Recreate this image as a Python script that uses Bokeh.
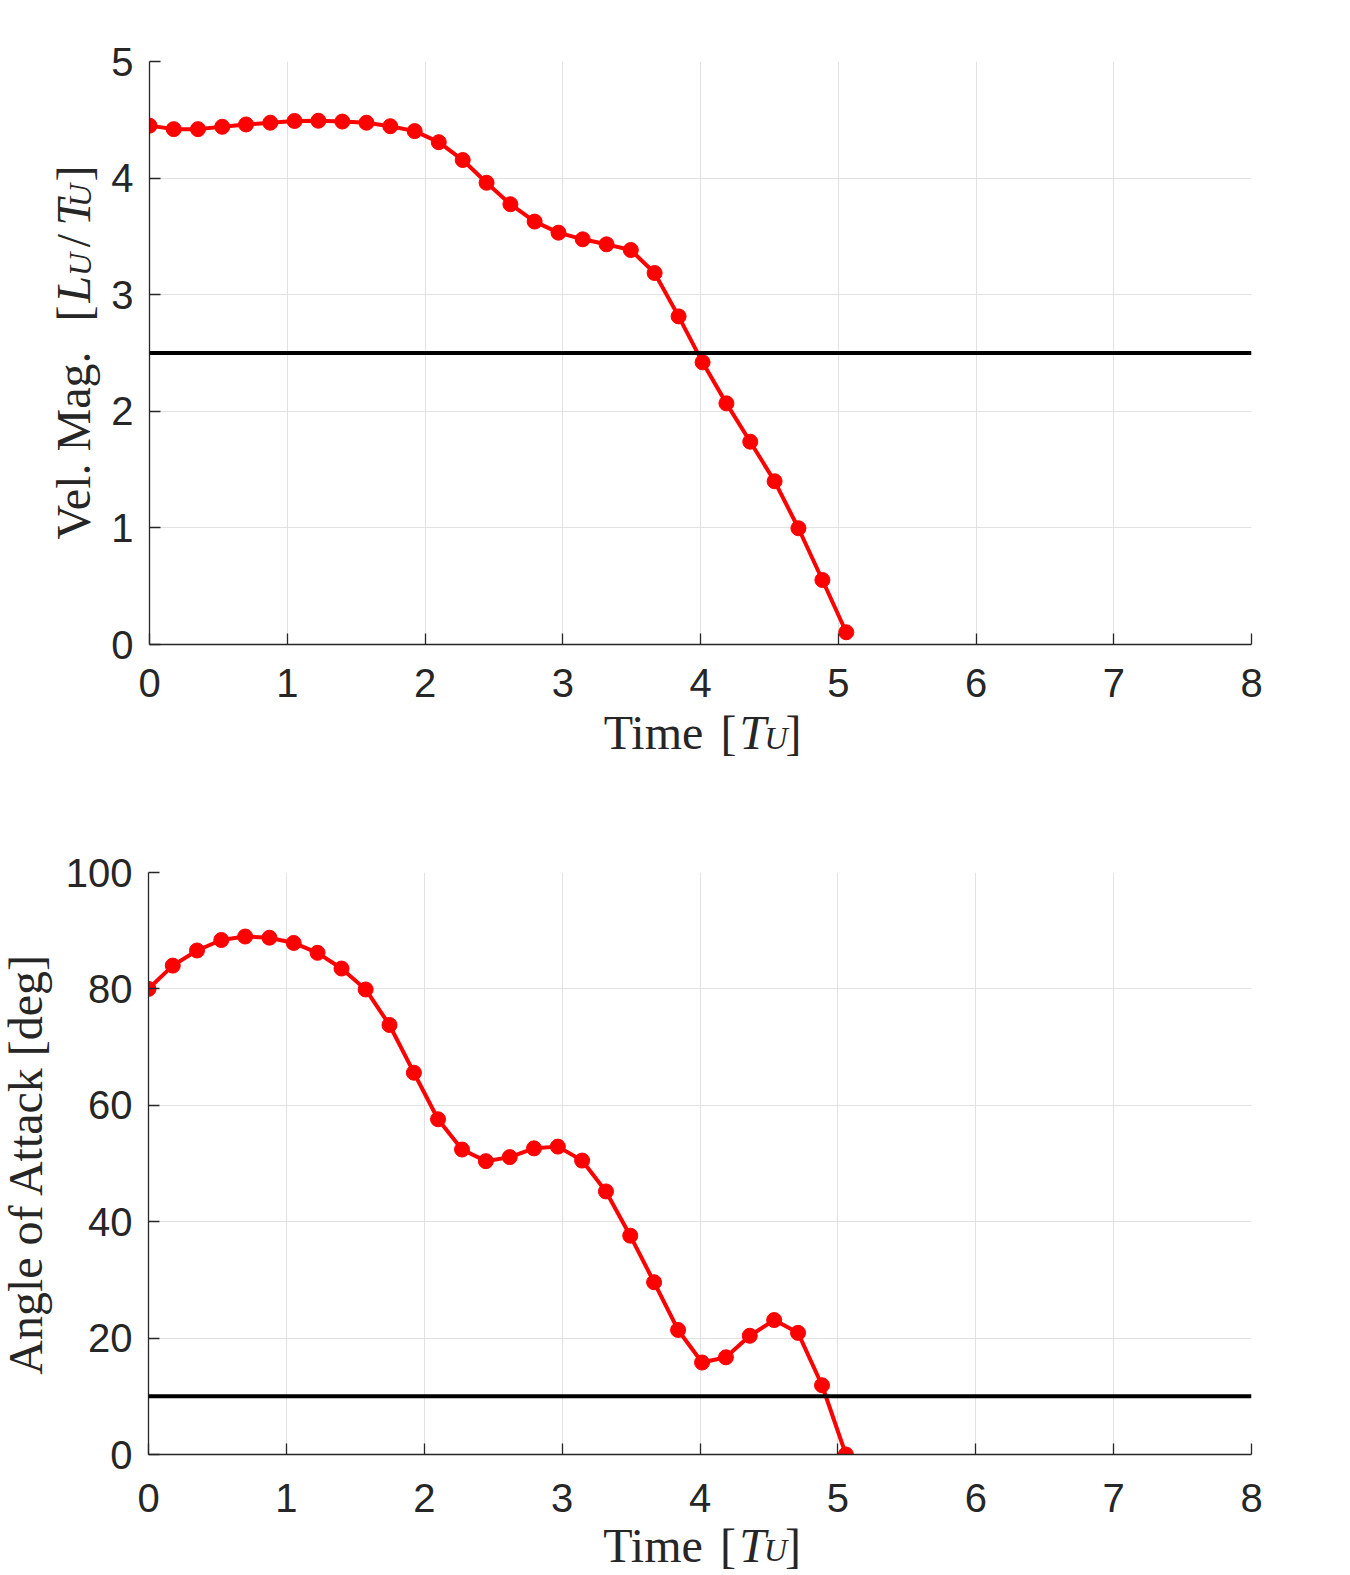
import math

from bokeh.core.properties import value
from bokeh.embed import file_html
from bokeh.layouts import column, row
from bokeh.models import ColumnDataSource, FixedTicker, Range1d, Span
from bokeh.plotting import figure
from bokeh.resources import INLINE

# Sample times [T_U]
time_tu = [0.000, 0.176, 0.352, 0.528, 0.701, 0.877, 1.053, 1.226, 1.400, 1.575,
           1.748, 1.925, 2.100, 2.274, 2.447, 2.620, 2.796, 2.969, 3.145, 3.318,
           3.494, 3.667, 3.841, 4.015, 4.188, 4.361, 4.538, 4.711, 4.885, 5.058]

# Velocity magnitude [L_U/T_U]
vel_mag = [4.450, 4.420, 4.420, 4.440, 4.460, 4.475, 4.490, 4.492, 4.485, 4.475,
           4.445, 4.403, 4.308, 4.155, 3.960, 3.776, 3.627, 3.532, 3.475, 3.432,
           3.383, 3.186, 2.814, 2.420, 2.068, 1.739, 1.400, 0.997, 0.553, 0.105]

# Angle of attack [deg]
aoa_deg = [80.0, 84.0, 86.6, 88.4, 89.0, 88.8, 87.9, 86.2, 83.5, 79.9,
           73.8, 65.6, 57.6, 52.4, 50.4, 51.1, 52.6, 52.9, 50.5, 45.2,
           37.6, 29.6, 21.4, 15.8, 16.7, 20.4, 23.1, 20.9, 11.9, 0.0]

# Limits drawn as horizontal reference lines
vel_limit = 2.5
aoa_limit = 10.0

x_ticks = [0, 1, 2, 3, 4, 5, 6, 7, 8]
vel_ticks = [0, 1, 2, 3, 4, 5]
aoa_ticks = [0, 20, 40, 60, 80, 100]

# Axis titles, split into roman / italic / subscript runs
time_title = ["Time", "[", "T", "U", "]"]
vel_title = ["Vel. Mag.", "[", "L", "U", "/", "T", "U", "]"]
aoa_title = ["Angle of Attack [deg]"]

INK = "#262626"
SERIF = "Liberation Serif"
SANS = "Liberation Sans"
RED = "#ff0000"
UP = math.pi / 2
LIFT = 18  # baseline correction for the text glyph, in pixels


def make_axes(width, height, left, bottom, top, y_end, y_ticks, standoff):
    p = figure(width=width, height=height,
               x_range=Range1d(0, 8), y_range=Range1d(0, y_end),
               output_backend="svg", toolbar_location=None,
               min_border_left=left, min_border_right=99,
               min_border_top=top, min_border_bottom=bottom)
    p.outline_line_color = None
    p.background_fill_color = "white"
    p.border_fill_color = "white"

    p.xaxis.ticker = FixedTicker(ticks=x_ticks)
    p.yaxis.ticker = FixedTicker(ticks=y_ticks)
    for ax in (p.xaxis, p.yaxis):
        ax.axis_line_color = INK
        ax.axis_line_width = 1.3
        ax.major_tick_line_color = INK
        ax.major_tick_line_width = 1.3
        ax.major_tick_in = 11
        ax.major_tick_out = 0
        ax.minor_tick_line_color = None
        ax.major_label_text_font = SANS
        ax.major_label_text_font_size = "40px"
        ax.major_label_text_color = INK
    p.xaxis.major_label_standoff = standoff
    p.yaxis.major_label_standoff = 16

    p.xgrid.grid_line_color = "#e2e2e2"
    p.ygrid.grid_line_color = "#e2e2e2"
    p.xgrid.grid_line_width = 1
    p.ygrid.grid_line_width = 1
    return p


def strip(width, height, page_left, page_top, border_left=0, border_right=0):
    # Blank panel addressed in page pixels: data x = page x, data y = -page y
    s = figure(width=width, height=height,
               x_range=Range1d(page_left + border_left, page_left + width - border_right),
               y_range=Range1d(-(page_top + height), -page_top),
               output_backend="svg", toolbar_location=None,
               min_border=0, min_border_left=border_left, min_border_right=border_right,
               x_axis_location=None, y_axis_location=None)
    s.outline_line_color = None
    s.background_fill_color = "white"
    s.border_fill_color = "white"
    s.grid.grid_line_color = None
    return s


def write(s, texts, xs, ys, sizes, styles, angle=0.0):
    src = ColumnDataSource(dict(x=xs, y=[-v for v in ys], text=texts,
                                size=sizes, style=styles))
    s.text(x="x", y="y", text="text", source=src,
           text_font=value(SERIF), text_font_size="size", text_font_style="style",
           text_color=INK, angle=angle,
           text_align="center", text_baseline="alphabetic")


def draw_series(p, y, limit):
    p.line(time_tu, y, line_color=RED, line_width=4)
    p.scatter(time_tu, y, size=15, fill_color=RED, line_color=RED)
    p.add_layout(Span(location=limit, dimension="width",
                      line_color="black", line_width=4))


def time_strip(width, height, page_left, page_top, border_left, baseline):
    s = strip(width, height, page_left, page_top, border_left, 99)
    b = baseline - LIFT
    write(s, time_title,
          [652.5, 727.5, 752.0, 775.0, 792.5],
          [b, b, b, b + 5, b],
          ["48px", "48px", "48px", "32px", "48px"],
          ["normal", "normal", "italic", "italic", "normal"])
    return s


# Upper panel: velocity magnitude
YW1 = 108
p1 = make_axes(1350 - YW1, 705, 148 - YW1, 61, 61, 5, vel_ticks, 24)
draw_series(p1, vel_mag, vel_limit)
t1 = time_strip(1350 - YW1, 85, YW1, 705, 148 - YW1, 750.0)

y1 = strip(YW1, 790, 0, 0)
bx = 90.7 - LIFT
write(y1, vel_title,
      [bx, bx, bx, bx + 7, bx, bx, bx + 7, bx],
      [445.0, 313.0, 289.0, 264.0, 240.0, 212.0, 195.0, 173.0],
      ["48px", "48px", "48px", "32px", "48px", "48px", "32px", "48px"],
      ["normal", "normal", "italic", "italic", "normal", "italic", "italic", "normal"],
      angle=UP)

# Lower panel: angle of attack
YW2 = 60
p2 = make_axes(1350 - YW2, 730, 148 - YW2, 66, 82, 100, aoa_ticks, 29)
draw_series(p2, aoa_deg, aoa_limit)
t2 = time_strip(1350 - YW2, 55, YW2, 1520, 148 - YW2, 1562.5)

y2 = strip(YW2, 785, 0, 790)
write(y2, aoa_title, [43.3 - LIFT], [1163.0], ["48px"], ["normal"], angle=UP)

upper = row(y1, column(p1, t1, spacing=0), spacing=0)
lower = row(y2, column(p2, t2, spacing=0), spacing=0)
layout = column(upper, lower, spacing=0)
open("out.html", "w").write(file_html(layout, INLINE))
